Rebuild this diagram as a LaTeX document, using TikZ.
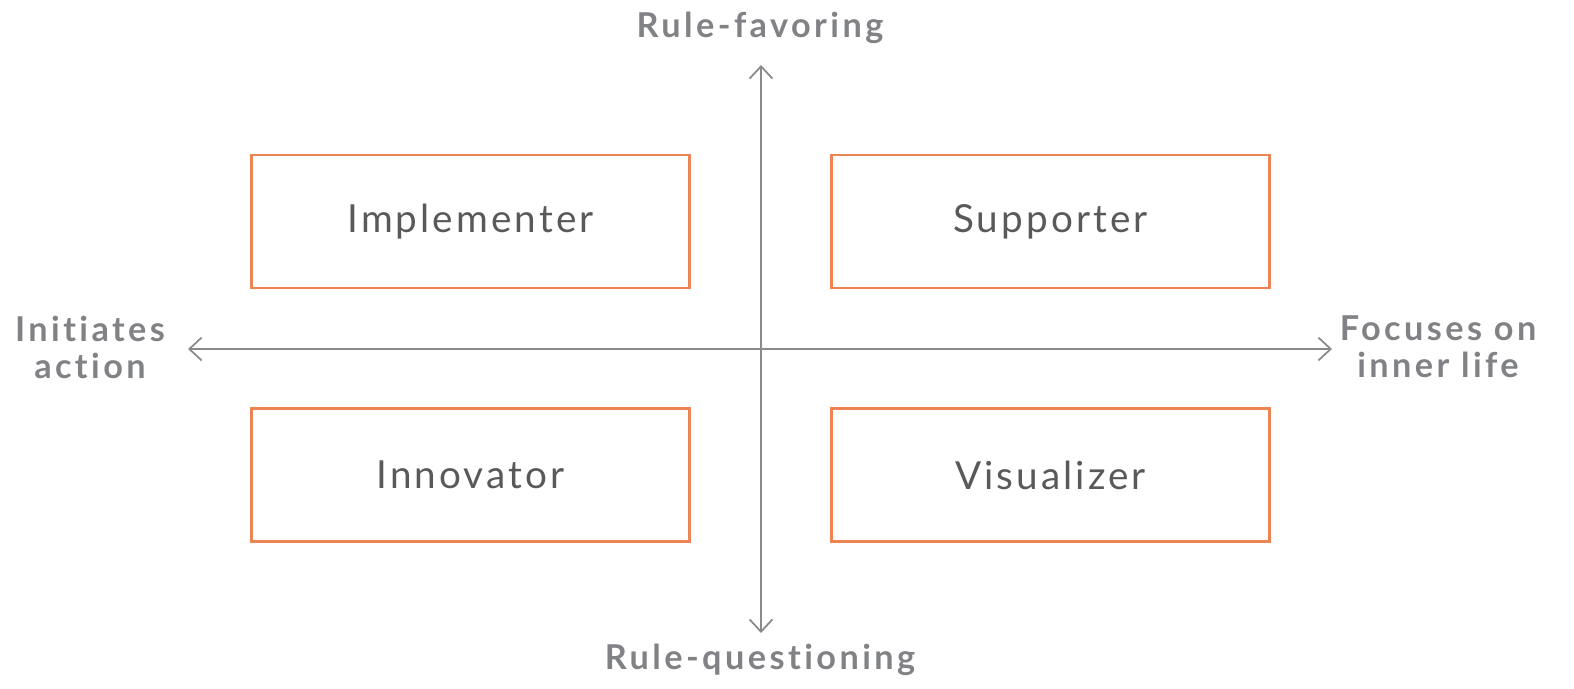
\documentclass[tikz,border=0pt]{standalone}
\usepackage{fontspec}
\setmainfont{Lato}
\usetikzlibrary{arrows.meta}
\definecolor{boxorange}{HTML}{EC8454}
\definecolor{axisgray}{HTML}{8A8A8D}
\definecolor{labelgray}{HTML}{808285}
\definecolor{textgray}{HTML}{58595B}
\newfontfamily\boxfont[LetterSpace=8, Ligatures=NoCommon]{Lato}
\newfontfamily\labelfont[LetterSpace=10, Ligatures=NoCommon]{Lato Bold}
\tikzset{
    quadrant/.style={draw=boxorange, line width=1.4pt, minimum width=8.76cm,
        minimum height=2.66cm, text=textgray, font=\boxfont\fontsize{22}{26}\selectfont},
    axislabel/.style={text=labelgray, align=center,
        font=\labelfont\fontsize{19.5}{21}\selectfont},
    axis/.style={draw=axisgray, line width=1pt,
        {Straight Barb[length=7pt,width=13pt]}-{Straight Barb[length=7pt,width=13pt]}}
}
\begin{document}
\begin{tikzpicture}[x=0.02cm, y=-0.02cm]
        \useasboundingbox (0,0) rectangle (1574,689);

        % quadrants
        \node[quadrant] (implementer) at (470.5,221.5) {Implementer};
        \node[quadrant] (supporter) at (1050.5,221.5) {Supporter};
        \node[quadrant] (innovator) at (470.5,475) {Innovator};
        \node[quadrant] (visualizer) at (1050.5,475) {Visualizer};

        % axis labels
        \node[axislabel] (favoring) at (760,28) {Rule-favoring};
        \node[axislabel] (questioning) at (760,660) {Rule-questioning};
        \node[axislabel] (initiates) at (90,347) {Initiates\\action};
        \node[axislabel] (focuses) at (1438,347) {Focuses on\\inner life};

        \coordinate (top) at (761,65);
        \coordinate (bottom) at (761,633);
        \coordinate (left) at (188,349);
        \coordinate (right) at (1332,349);

        \draw [axis] (top) -- (bottom);
        \draw [axis] (left) -- (right);

    \end{tikzpicture}
\end{document}
